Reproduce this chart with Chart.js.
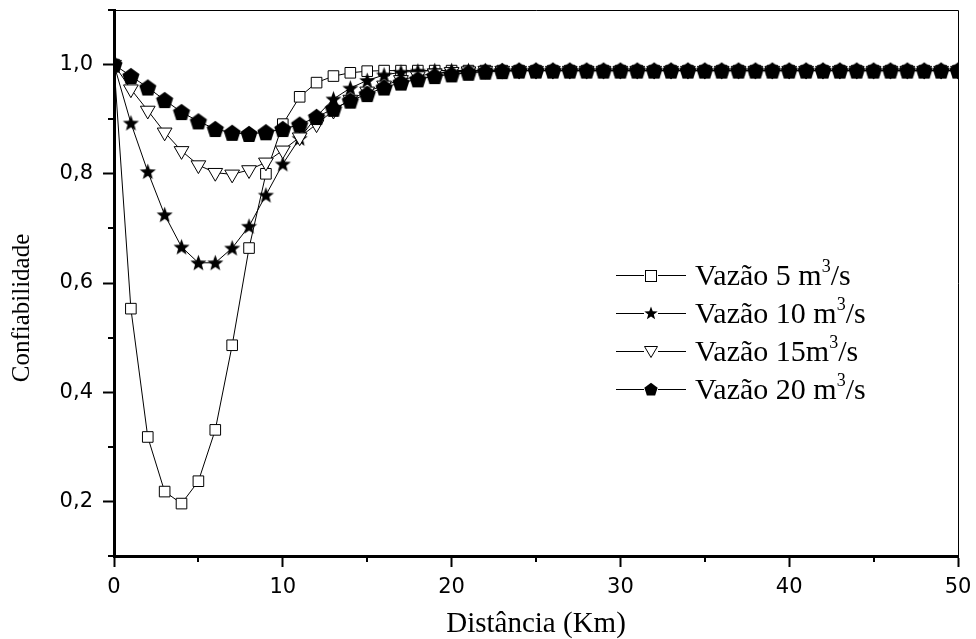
<!DOCTYPE html>
<html>
<head>
<meta charset="utf-8">
<script src="https://cdn.jsdelivr.net/npm/chart.js@4.4.1/dist/chart.umd.min.js"></script>
<style>
	html, body { margin: 0; padding: 0; background: #fff; }
	#wrap { position: relative; width: 976px; height: 639px; }
	#legenda {
		position: absolute; left: 614px; top: 256px;
		font-family: "Liberation Serif", "Times New Roman", serif;
		font-size: 30px; color: #000;
	}
	.item { display: flex; align-items: center; height: 38px; white-space: nowrap; }
	.item canvas { margin-right: 7px; }
	sup { font-size: 18px; vertical-align: 0.7em; line-height: 0; }
</style>
</head>
<body>
<div id="wrap">
	<canvas id="grafic" width="976" height="639"></canvas>
	<div id="legenda"></div>
</div>
<script>
// distanta (Km)
const distante = [0, 1, 2, 3, 4, 5, 6, 7, 8, 9, 10, 11, 12, 13, 14, 15, 16, 17, 18, 19, 20,
	21, 22, 23, 24, 25, 26, 27, 28, 29, 30, 31, 32, 33, 34, 35, 36, 37, 38, 39, 40,
	41, 42, 43, 44, 45, 46, 47, 48, 49, 50];

// confiabilidade pe serie
const vazao5 = [1.000, 0.553, 0.318, 0.218, 0.196, 0.237, 0.331, 0.486, 0.664, 0.800, 0.891,
	0.941, 0.967, 0.979, 0.985, 0.988, 0.989, 0.989, 0.989, 0.989, 0.989,
	0.989, 0.989, 0.989, 0.989, 0.989, 0.989, 0.989, 0.989, 0.989, 0.989,
	0.989, 0.989, 0.989, 0.989, 0.989, 0.989, 0.989, 0.989, 0.989, 0.989,
	0.989, 0.989, 0.989, 0.989, 0.989, 0.989, 0.989, 0.989, 0.989, 0.989];
const vazao10 = [1.000, 0.893, 0.804, 0.725, 0.666, 0.637, 0.637, 0.664, 0.704, 0.761, 0.818,
	0.865, 0.905, 0.937, 0.957, 0.971, 0.981, 0.986, 0.988, 0.989, 0.989,
	0.989, 0.989, 0.989, 0.989, 0.989, 0.989, 0.989, 0.989, 0.989, 0.989,
	0.989, 0.989, 0.989, 0.989, 0.989, 0.989, 0.989, 0.989, 0.989, 0.989,
	0.989, 0.989, 0.989, 0.989, 0.989, 0.989, 0.989, 0.989, 0.989, 0.989];
const vazao15 = [1.000, 0.955, 0.916, 0.876, 0.842, 0.816, 0.802, 0.799, 0.807, 0.821, 0.843,
	0.867, 0.891, 0.916, 0.936, 0.951, 0.962, 0.972, 0.979, 0.984, 0.987,
	0.988, 0.989, 0.989, 0.989, 0.989, 0.989, 0.989, 0.989, 0.989, 0.989,
	0.989, 0.989, 0.989, 0.989, 0.989, 0.989, 0.989, 0.989, 0.989, 0.989,
	0.989, 0.989, 0.989, 0.989, 0.989, 0.989, 0.989, 0.989, 0.989, 0.989];
const vazao20 = [1.000, 0.979, 0.958, 0.935, 0.913, 0.896, 0.882, 0.875, 0.873, 0.876, 0.882,
	0.890, 0.904, 0.919, 0.934, 0.946, 0.958, 0.967, 0.973, 0.979, 0.982,
	0.985, 0.987, 0.988, 0.989, 0.989, 0.989, 0.989, 0.989, 0.989, 0.989,
	0.989, 0.989, 0.989, 0.989, 0.989, 0.989, 0.989, 0.989, 0.989, 0.989,
	0.989, 0.989, 0.989, 0.989, 0.989, 0.989, 0.989, 0.989, 0.989, 0.989];

const rotule = ['Vazão 5 m³/s', 'Vazão 10 m³/s', 'Vazão 15m³/s', 'Vazão 20 m³/s'];
const tickX = [0, 10, 20, 30, 40, 50];
const tickXMinor = [5, 15, 25, 35, 45];
const tickY = [0.2, 0.4, 0.6, 0.8, 1.0];
const tickYMinor = [0.1, 0.3, 0.5, 0.7, 0.9, 1.1];

// markere desenate pe canvas
function stea(r) {
	const d = Math.ceil(2 * r + 2), c = document.createElement('canvas');
	c.width = c.height = d;
	const ctx = c.getContext('2d');
	ctx.beginPath();
	for (let i = 0; i < 10; i++) {
		const a = -Math.PI / 2 + i * Math.PI / 5;
		const rr = i % 2 ? r * 0.42 : r;
		ctx.lineTo(d / 2 + rr * Math.cos(a), d / 2 + 0.6 + rr * Math.sin(a));
	}
	ctx.closePath();
	ctx.fillStyle = '#000';
	ctx.fill();
	return c;
}
function pentagon(r) {
	const d = Math.ceil(2 * r + 2), c = document.createElement('canvas');
	c.width = c.height = d;
	const ctx = c.getContext('2d');
	ctx.beginPath();
	for (let i = 0; i < 5; i++) {
		const a = -Math.PI / 2 + i * 2 * Math.PI / 5;
		ctx.lineTo(d / 2 + r * Math.cos(a), d / 2 + 0.8 + r * Math.sin(a));
	}
	ctx.closePath();
	ctx.fillStyle = '#000';
	ctx.fill();
	return c;
}

const markerStea = stea(8.5);
const markerPentagon = pentagon(9);

function setDate(valori) {
	return distante.map((x, i) => ({ x: x, y: valori[i] }));
}

const comun = {
	borderColor: '#000',
	borderWidth: 1,
	tension: 0,
	pointBorderColor: '#000',
	pointBorderWidth: 1
};

const minorTicks = {
	id: 'minorTicks',
	afterDraw(chart) {
		const { ctx, chartArea, scales } = chart;
		ctx.save();
		ctx.strokeStyle = '#000';
		ctx.lineWidth = 2;
		ctx.beginPath();
		tickXMinor.forEach(v => {
			const px = Math.round(scales.x.getPixelForValue(v));
			ctx.moveTo(px, chartArea.bottom);
			ctx.lineTo(px, chartArea.bottom + 6);
		});
		tickYMinor.forEach(v => {
			const py = Math.round(scales.y.getPixelForValue(v));
			ctx.moveTo(chartArea.left - 6, py);
			ctx.lineTo(chartArea.left, py);
		});
		ctx.stroke();
		// rama sus si dreapta
		ctx.lineWidth = 1;
		ctx.beginPath();
		ctx.moveTo(chartArea.left, chartArea.top + 0.5);
		ctx.lineTo(chartArea.right + 0.5, chartArea.top + 0.5);
		ctx.lineTo(chartArea.right + 0.5, chartArea.bottom);
		ctx.stroke();
		ctx.restore();
	}
};

new Chart(document.getElementById('grafic'), {
	type: 'line',
	data: {
		datasets: [
			Object.assign({}, comun, {
				label: rotule[0], data: setDate(vazao5), order: 3,
				pointStyle: 'rect', pointRadius: 7.5, pointBackgroundColor: '#fff'
			}),
			Object.assign({}, comun, {
				label: rotule[1], data: setDate(vazao10), order: 2,
				pointStyle: markerStea, pointRadius: 8
			}),
			Object.assign({}, comun, {
				label: rotule[2], data: setDate(vazao15), order: 1,
				pointStyle: 'triangle', pointRotation: 180, pointRadius: 8.5, pointBackgroundColor: '#fff'
			}),
			Object.assign({}, comun, {
				label: rotule[3], data: setDate(vazao20), order: 0,
				pointStyle: markerPentagon, pointRadius: 9
			})
		]
	},
	options: {
		responsive: false,
		animation: false,
		devicePixelRatio: 1,
		layout: { padding: { top: 7, right: 18, left: 0, bottom: 0 } },
		plugins: { legend: { display: false }, tooltip: { enabled: false } },
		scales: {
			x: {
				type: 'linear', min: 0, max: 50,
				afterBuildTicks: s => { s.ticks = tickX.map(v => ({ value: v })); },
				afterFit: s => { s.height = 83; s.paddingLeft = 0; s.paddingRight = 0; },
				ticks: {
					color: '#000', padding: 8, maxRotation: 0, autoSkip: false,
					font: { family: 'DejaVu Sans', size: 21 }
				},
				grid: { drawOnChartArea: false, tickLength: 11, tickWidth: 2, tickColor: '#000' },
				border: { display: true, width: 3, color: '#000' },
				title: {
					display: true, text: 'Distância (Km)', color: '#000',
					font: { family: 'Liberation Serif', size: 29, lineHeight: 1 },
					padding: { top: 0, bottom: 0 }
				}
			},
			y: {
				type: 'linear', min: 0.1, max: 1.1,
				afterBuildTicks: s => { s.ticks = tickY.map(v => ({ value: v })); },
				afterFit: s => { s.width = 114; s.paddingTop = 0; s.paddingBottom = 0; },
				ticks: {
					color: '#000', padding: 10,
					font: { family: 'DejaVu Sans', size: 21 },
					callback: v => v.toFixed(1).replace('.', ',')
				},
				grid: { drawOnChartArea: false, tickLength: 11, tickWidth: 2, tickColor: '#000' },
				border: { display: true, width: 3, color: '#000' },
				title: {
					display: true, text: 'Confiabilidade\u00A0\u00A0\u00A0\u00A0\u00A0\u00A0\u00A0\u00A0', color: '#000',
					font: { family: 'Liberation Serif', size: 25 },
					padding: { top: 7, bottom: 0 }
				}
			}
		}
	},
	plugins: [minorTicks]
});

// legenda in interiorul graficului
function iconLegenda(i) {
	const c = document.createElement('canvas');
	c.width = 74; c.height = 22;
	const ctx = c.getContext('2d');
	ctx.strokeStyle = '#000';
	ctx.lineWidth = 1;
	ctx.beginPath();
	ctx.moveTo(2, 11.5); ctx.lineTo(30, 11.5);
	ctx.moveTo(44, 11.5); ctx.lineTo(72, 11.5);
	ctx.stroke();
	ctx.fillStyle = '#fff';
	if (i === 0) {
		ctx.fillRect(31.5, 6.5, 11, 11);
		ctx.strokeRect(31.5, 6.5, 11, 11);
	} else if (i === 1) {
		ctx.drawImage(stea(7), 37 - 8, 11 - 8);
	} else if (i === 2) {
		ctx.beginPath();
		ctx.moveTo(30.5, 6.5); ctx.lineTo(43.5, 6.5); ctx.lineTo(37, 17.5);
		ctx.closePath();
		ctx.fill(); ctx.stroke();
	} else {
		ctx.drawImage(pentagon(7), 37 - 8, 11 - 8);
	}
	return c;
}

const legenda = document.getElementById('legenda');
rotule.forEach((text, i) => {
	const rand = document.createElement('div');
	rand.className = 'item';
	rand.appendChild(iconLegenda(i));
	const span = document.createElement('span');
	span.innerHTML = text.replace('³', '<sup>3</sup>');
	rand.appendChild(span);
	legenda.appendChild(rand);
});
</script>
</body>
</html>
